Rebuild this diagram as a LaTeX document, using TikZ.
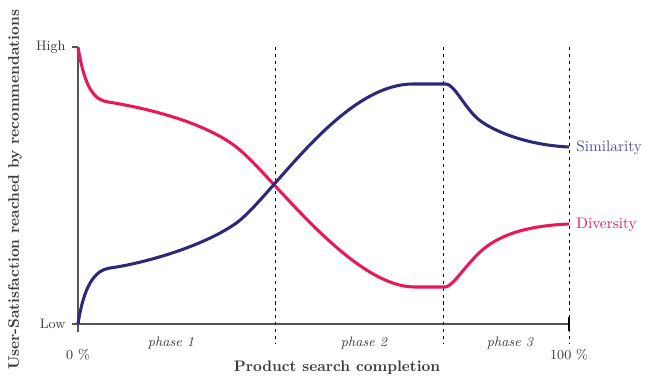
\documentclass[tikz,border=0pt]{standalone}
\usepackage{xcolor}
\usepackage{tikz}
\usetikzlibrary{positioning, calc}
\definecolor{simblue}{RGB}{45, 40, 120}
\definecolor{simlabel}{RGB}{80, 75, 160}
\definecolor{divred}{RGB}{234, 24, 88}
\definecolor{axisgray}{RGB}{85, 85, 85}
\definecolor{textgray}{RGB}{60, 60, 60}

\begin{document}
\begin{tikzpicture}[x=0.023cm, y=-0.023cm,
    curve/.style={line width=2pt, line join=round},
    axis/.style={axisgray, line width=1pt},
    divider/.style={line width=0.5pt, dash pattern=on 2pt off 2.5pt},
    phase/.style={font=\small\itshape, text=textgray},
    tick/.style={font=\small, text=textgray}]
\useasboundingbox (0,0) rectangle (653,381);
\coordinate (origin) at (78,324);
\coordinate (ytop) at (78,47);
\coordinate (xend) at (569,324);

% axes
\draw[axis] (origin) -- (ytop);
\draw[axis] ($(origin)+(0,8)$) -- (origin) -- (xend);
\draw[axis] ($(ytop)+(-6,0)$) -- (ytop);
\draw[axis] ($(origin)+(-6,0)$) -- (origin);
\draw[black, line width=0.8pt] ($(xend)+(0,-7)$) -- ($(xend)+(0,7)$);

% phase borders
\foreach \px in {275, 443, 569}
  \draw[divider] (\px,47) -- (\px,343);

% curves
\draw[curve, divred] (ytop) .. controls (85,90) and (95,100) .. (108,102)
  .. controls (140,107) and (200,120) .. (235,146)
  .. controls (270,172) and (350,287) .. (415,287) -- (445,287)
  .. controls (452,287) and (462,270) .. (478,254)
  .. controls (494,238) and (520,226) .. (569,224);
\draw[curve, simblue] (origin) .. controls (84,285) and (95,270) .. (110,268)
  .. controls (140,264) and (200,248) .. (235,224)
  .. controls (270,200) and (340,84) .. (413,84) -- (446,84)
  .. controls (454,84) and (465,108) .. (478,119)
  .. controls (491,130) and (525,145) .. (569,147);

% labels
\node[tick, anchor=east] (high) at ($(ytop)+(-7,0)$) {High};
\node[tick, anchor=east] (low) at ($(origin)+(-7,0)$) {Low};
\node[tick] (zero) at (78,355) {0 \%};
\node[tick] (hundred) at (569,355) {100 \%};
\node[phase] (p1) at (171,343) {phase 1};
\node[phase] (p2) at (364,343) {phase 2};
\node[phase] (p3) at (510,343) {phase 3};
\node[anchor=west, text=simlabel] (sim) at (571,148) {Similarity};
\node[anchor=west, text=divred] (div) at (571,225) {Diversity};
\node[font=\bfseries, text=textgray] (xlabel) at (337,368) {Product search completion};
\node[font=\bfseries, text=textgray, rotate=90] (ylabel) at (15,190) {User-Satisfaction reached by recommendations};
\end{tikzpicture}
\end{document}
